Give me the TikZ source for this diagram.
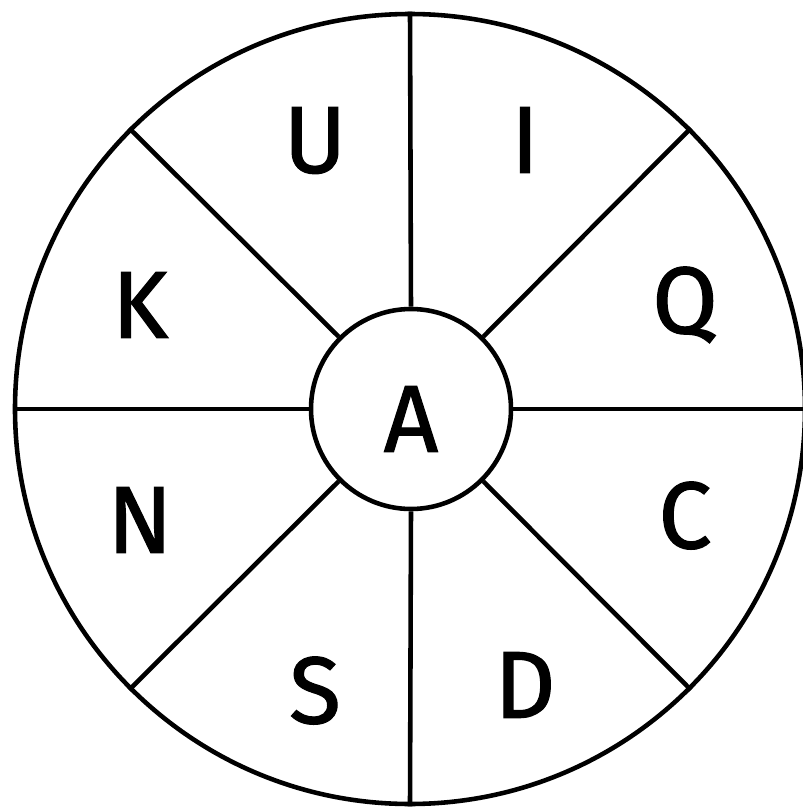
\documentclass[tikz,border=0pt]{standalone}
\usepackage{fontspec}
\newfontfamily\wheelfont[FakeBold=1.3]{Fira Sans}
\usepackage{tikz}
\usetikzlibrary{positioning}
\tikzstyle{ring} = [circle, draw, line width=1.3pt, inner sep=0pt]
\tikzstyle{letter} = [inner sep=0pt, text depth=0pt, font=\wheelfont\fontsize{27}{27}\selectfont]
\tikzstyle{spoke} = [line width=1.3pt]

\begin{document}
\begin{tikzpicture}
    \useasboundingbox (0, 0) rectangle (8.03, 8.10);
    % Wheel
    \node[ring, minimum size=7.9cm] (outer) at (4.10, 4.01) {};
    \node[ring, minimum size=2.0cm] (hub) at (4.11, 4.01) {};
    \node[letter, yshift=-0.1cm] (a) at (hub) {A};
    
    % Spokes
    \draw[spoke] (hub.90) -- (outer.90);
    \draw[spoke] (hub.45) -- (outer.45);
    \draw[spoke] (hub.0) -- (outer.0);
    \draw[spoke] (hub.-45) -- (outer.-45);
    \draw[spoke] (hub.-90) -- (outer.-90);
    \draw[spoke] (hub.-135) -- (outer.-135);
    \draw[spoke] (hub.180) -- (outer.180);
    \draw[spoke] (hub.135) -- (outer.135);
    
    % Letters
    \node[letter] (u) at (3.15, 6.70) {U};
    \node[letter] (i) at (5.25, 6.70) {I};
    \node[letter] (k) at (1.40, 5.05) {K};
    \node[letter] (q) at (6.85, 5.10) {Q};
    \node[letter] (n) at (1.40, 2.90) {N};
    \node[letter] (c) at (6.85, 2.95) {C};
    \node[letter] (s) at (3.15, 1.20) {S};
    \node[letter] (d) at (5.25, 1.25) {D};
\end{tikzpicture}
\end{document}
